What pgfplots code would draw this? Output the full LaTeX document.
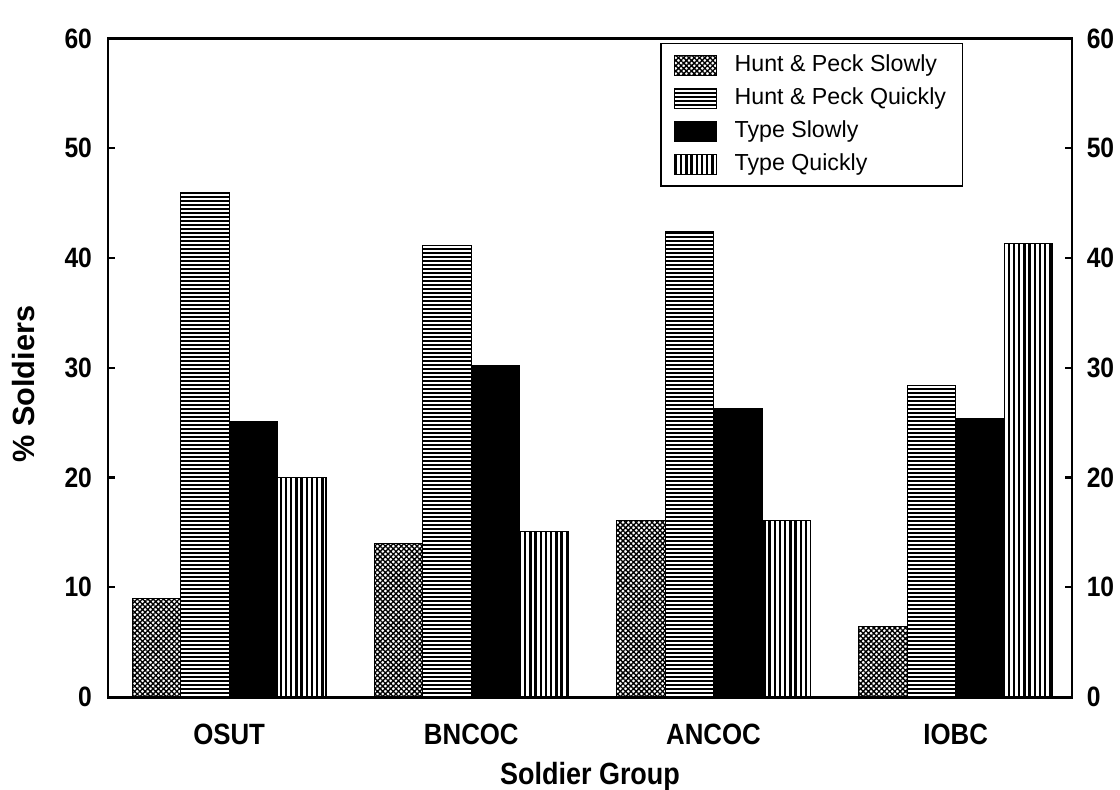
\documentclass[border=0pt]{standalone}
\usepackage{pgfplots}
\pgfplotsset{compat=1.18}
\usepackage{pgfplotstable}
\usetikzlibrary{patterns.meta}
\usepackage{fontspec}
\setmainfont{Liberation Sans}
\newfontfamily\narrow{Liberation Sans}[FakeStretch=0.88]

\pgfplotstableread{
x hps hpq ts tq
0 9.0 46.0 25.1 20.0
1 14.0 41.1 30.2 15.1
2 16.1 42.4 26.3 16.1
3 6.4 28.4 25.4 41.3
}\typing

\begin{document}
\begin{tikzpicture}
\path[use as bounding box] (-40.5pt,-34.5pt) rectangle (379.5pt,261.4pt);
\begin{axis}[
  scale only axis, width=361.5pt, height=247pt,
  ymin=0, ymax=60, xmin=-0.5, xmax=3.48,
  ytick={0,10,...,60}, ytick pos=left,
  xtick={0,1,2,3}, xticklabels={OSUT,BNCOC,ANCOC,IOBC},
  x tick style={draw=none},
  axis line style={line width=1.1pt},
  major tick length=2.5pt,
  y tick style={line width=0.8pt, black},
  /pgf/number format/assume math mode=true,
  yticklabel style={font=\fontsize{10.5}{12}\narrow\bfseries, xshift=-2.5pt},
  xticklabel style={font=\fontsize{11}{13}\narrow\bfseries, yshift=-4pt},
  xlabel={Soldier Group},
  xlabel style={font=\fontsize{11.5}{13}\narrow\bfseries, at={(axis description cs:0.5,-0.121)}, anchor=center},
  ylabel={\% Soldiers},
  ylabel style={font=\fontsize{11.5}{13}\selectfont\bfseries, at={(axis description cs:-0.088,0.475)}, anchor=center},
  ybar, bar width=0.2,
  legend style={at={(axis description cs:0.573,0.993)}, anchor=north west,
    draw=black, line width=0.5pt, font=\fontsize{8.7}{10}\selectfont,
    row sep=2.2pt, inner xsep=5pt, inner ysep=3pt,
    nodes={inner sep=1.2pt}},
  legend cell align=left,
  legend image code/.code={\draw[#1, line width=0.3pt] (2pt,-3.75pt) rectangle (17.75pt,3.75pt); \path (23pt,0pt);},
]
\addplot[bar shift=-0.3, draw=black, line width=0.4pt,
  pattern={Hatch[angle=45, distance=1.4pt, line width=0.5pt]}] table[x=x, y=hps] {\typing};
\addlegendentry{Hunt \& Peck Slowly}
\addplot[bar shift=-0.1, draw=black, line width=0.4pt,
  pattern={Lines[angle=0, distance=1.5pt, line width=0.8pt]}] table[x=x, y=hpq] {\typing};
\addlegendentry{Hunt \& Peck Quickly}
\addplot[bar shift=0.1, draw=black, fill=black] table[x=x, y=ts] {\typing};
\addlegendentry{Type Slowly}
\addplot[bar shift=0.3, draw=black, line width=0.4pt,
  pattern={Lines[angle=90, distance=1.95pt, line width=0.85pt]}] table[x=x, y=tq] {\typing};
\addlegendentry{Type Quickly}
\end{axis}
\begin{axis}[
  scale only axis, width=361.5pt, height=247pt,
  ymin=0, ymax=60, xmin=-0.5, xmax=3.48,
  axis x line=none, axis y line*=right,
  axis line style={line width=1.1pt, -},
  ytick={0,10,...,60},
  major tick length=2.5pt,
  y tick style={line width=0.8pt, black},
  /pgf/number format/assume math mode=true,
  yticklabel style={font=\fontsize{10.5}{12}\narrow\bfseries, xshift=2pt},
]
\end{axis}
\end{tikzpicture}
\end{document}
